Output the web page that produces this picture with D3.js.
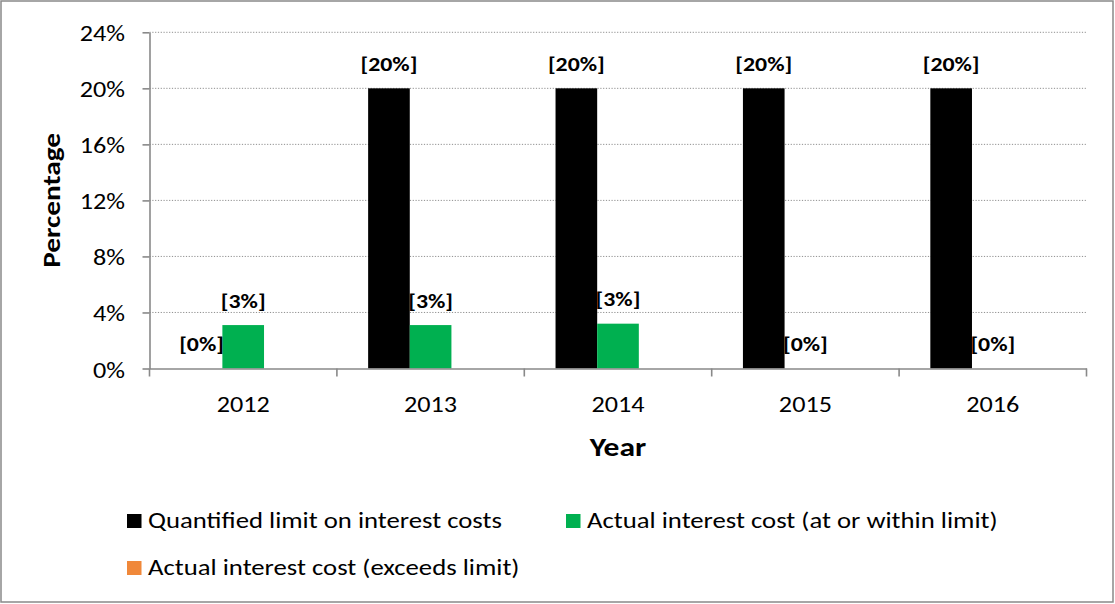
<!DOCTYPE html>
<html>
<head>
<meta charset="utf-8">
<script src="https://cdn.jsdelivr.net/npm/d3@7"></script>
<style>
  body { margin: 0; background: #fff; }
  svg text { font-family: Carlito, Calibri, Lato, sans-serif; fill: #000; }
</style>
</head>
<body>
<svg id="chart" width="1115" height="604"></svg>
<script>
// Interest cost versus the quantified limit, by year (percent)
const years = ["2012", "2013", "2014", "2015", "2016"];
const limitValues = [0, 20, 20, 20, 20];
const withinValues = [3.1, 3.1, 3.2, 0, 0];
const exceedsValues = [0, 0, 0, 0, 0];
const yTicks = [0, 4, 8, 12, 16, 20, 24];
const seriesNames = [
  "Quantified limit on interest costs",
  "Actual interest cost (at or within limit)",
  "Actual interest cost (exceeds limit)"
];
const seriesColors = ["#000000", "#00B050", "#F0883A"];
const labelledSeries = [true, true, false];

const series = [limitValues, withinValues, exceedsValues];
const sx = 1.19;        // horizontal widening of the lettering
const sxLegend = 1.215; // same, for the legend entries

const svg = d3.select("#chart");

// outer frame
svg.append("rect")
  .attr("x", 1).attr("y", 1).attr("width", 1112).attr("height", 601)
  .attr("fill", "#fff").attr("stroke", "#898989").attr("stroke-width", 1.5);

const plot = { left: 149.5, right: 1086.5, top: 32.3, bottom: 368.5 };

const x = d3.scaleBand().domain(years).range([plot.left, plot.right]).padding(0);
const xs = d3.scaleBand().domain(d3.range(series.length))
  .range([0, x.bandwidth()]).paddingInner(0).paddingOuter(0.75);
const y = d3.scaleLinear().domain([0, 24]).range([plot.bottom, plot.top]);

// dotted gridlines
svg.append("g").selectAll("line")
  .data(yTicks.filter(t => t > 0))
  .join("line")
  .attr("x1", plot.left).attr("x2", plot.right)
  .attr("y1", d => y(d)).attr("y2", d => y(d))
  .attr("stroke", "#8f8f8f").attr("stroke-width", 1)
  .attr("stroke-dasharray", "1.2 1.6");

// y axis
const yAxisG = svg.append("g")
  .attr("transform", `translate(${plot.left},0)`)
  .call(d3.axisLeft(y).tickValues(yTicks).tickSize(7).tickSizeOuter(0)
    .tickFormat(d => d + "%"));
yAxisG.select(".domain").attr("stroke", "#898989").attr("stroke-width", 1.6);
yAxisG.selectAll(".tick line").attr("stroke", "#898989").attr("stroke-width", 1.6);
yAxisG.selectAll(".tick text")
  .attr("x", null).attr("dy", null)
  .attr("transform", `translate(-24.5,8.5) scale(${sx},1)`)
  .attr("text-anchor", "end")
  .style("font-size", "22px");
yAxisG.attr("font-family", null).attr("font-size", null);

// bars
series.forEach((vals, i) => {
  svg.append("g").selectAll("rect")
    .data(years.map((yr, j) => ({ yr, v: vals[j] })))
    .join("rect")
    .attr("x", d => x(d.yr) + xs(i))
    .attr("width", xs.bandwidth())
    .attr("y", d => y(d.v))
    .attr("height", d => y(0) - y(d.v))
    .attr("fill", seriesColors[i]);
});

// x axis
const xAxisG = svg.append("g")
  .attr("transform", `translate(0,${plot.bottom})`)
  .call(d3.axisBottom(x).tickSize(0).tickSizeOuter(0));
xAxisG.select(".domain").attr("stroke", "#898989").attr("stroke-width", 1.6);
xAxisG.selectAll(".tick text")
  .attr("y", null).attr("dy", null)
  .attr("transform", `translate(0,43) scale(${sx},1)`)
  .style("font-size", "22px");
xAxisG.attr("font-family", null).attr("font-size", null);

// category boundary ticks
const bounds = years.map(d => x(d)).concat([x.range()[1]]);
svg.append("g").selectAll("line")
  .data(bounds)
  .join("line")
  .attr("x1", d => d).attr("x2", d => d)
  .attr("y1", plot.bottom).attr("y2", plot.bottom + 8)
  .attr("stroke", "#898989").attr("stroke-width", 1.6);

// data labels
series.forEach((vals, i) => {
  if (!labelledSeries[i]) return;
  svg.append("g").selectAll("text")
    .data(years.map((yr, j) => ({ yr, v: vals[j] })))
    .join("text")
    .attr("transform", d =>
      `translate(${x(d.yr) + xs(i) + xs.bandwidth() / 2},${y(d.v) - 17.5}) scale(${sx},1)`)
    .attr("text-anchor", "middle")
    .style("font-size", "20px").style("font-weight", "bold")
    .text(d => "[" + Math.round(d.v) + "%]");
});

// axis titles
svg.append("text")
  .attr("transform", `translate(${(plot.left + plot.right) / 2},456) scale(${sx},1)`)
  .attr("text-anchor", "middle")
  .style("font-size", "26.5px").style("font-weight", "bold")
  .text("Year");

svg.append("text")
  .attr("transform", `translate(60,${(plot.top + plot.bottom) / 2}) rotate(-90) scale(1.22,1)`)
  .attr("text-anchor", "middle")
  .style("font-size", "24px").style("font-weight", "bold")
  .text("Percentage");

// legend
const legendPos = [[127, 514], [566, 514], [127, 561]];
const legend = svg.append("g").selectAll("g")
  .data(seriesNames.map((n, i) => ({ n, i })))
  .join("g")
  .attr("transform", d => `translate(${legendPos[d.i][0]},${legendPos[d.i][1]})`);
legend.append("rect")
  .attr("width", 14.5).attr("height", 14)
  .attr("fill", d => seriesColors[d.i]);
legend.append("text")
  .attr("transform", `translate(21,13.5) scale(${sxLegend},1)`)
  .style("font-size", "22px")
  .text(d => d.n);
</script>
</body>
</html>
